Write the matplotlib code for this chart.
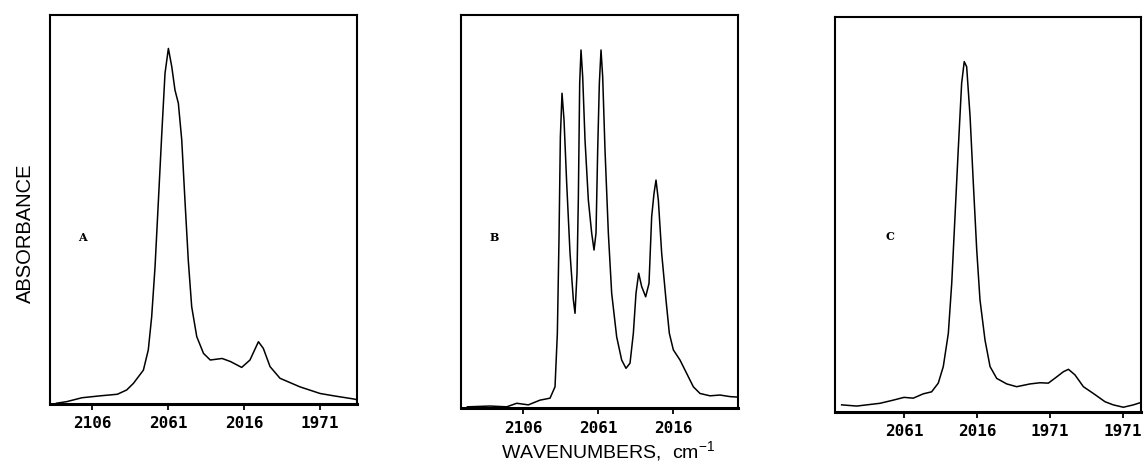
#!/usr/bin/env python3
# -*- coding: utf-8 -*-

import matplotlib
matplotlib.use('Agg')
import matplotlib.pyplot as plt

# IR spectra: wavenumber (cm-1) and absorbance (arb., 0..1 of panel)
wn_a = [2127.0, 2121.0, 2112.0, 2101.0, 2091.0, 2085.5, 2081.5, 2075.6, 2072.7,
        2070.7, 2068.7, 2066.7, 2064.7, 2062.8, 2060.8, 2058.8, 2056.9, 2054.9,
        2052.9, 2051.0, 2049.0, 2047.0, 2044.0, 2040.0, 2036.0, 2029.0, 2024.0,
        2017.4, 2012.5, 2007.5, 2004.6, 2000.6, 1994.7, 1982.9, 1971.0, 1963.0,
        1951.3, 1945.7]
abs_a = [0.002, 0.006, 0.016, 0.021, 0.025, 0.036, 0.053, 0.087, 0.139,
         0.224, 0.353, 0.524, 0.696, 0.850, 0.914, 0.867, 0.807, 0.773,
         0.679, 0.524, 0.368, 0.250, 0.173, 0.130, 0.113, 0.117, 0.109,
         0.094, 0.113, 0.160, 0.143, 0.096, 0.066, 0.044, 0.027, 0.021,
         0.013, 0.008]

wn_b = [2139.4, 2125.8, 2115.8, 2109.8, 2102.8, 2095.8, 2089.8, 2086.8, 2085.4,
        2084.4, 2083.6, 2082.6, 2081.4, 2079.8, 2077.8, 2075.8, 2074.8, 2073.6,
        2072.8, 2072.0, 2071.2, 2070.2, 2068.8, 2066.8, 2064.8, 2063.4, 2062.2,
        2061.2, 2060.2, 2059.2, 2058.2, 2056.8, 2054.8, 2052.8, 2049.8, 2046.8,
        2044.2, 2041.8, 2039.8, 2038.2, 2036.6, 2034.8, 2032.4, 2030.4, 2028.8,
        2027.4, 2026.2, 2024.8, 2022.8, 2020.2, 2018.2, 2015.8, 2011.8, 2007.8,
        2003.8, 1999.8, 1993.8, 1987.8, 1981.8, 1974.2]
abs_b = [0.003, 0.005, 0.003, 0.012, 0.008, 0.020, 0.025, 0.054, 0.190,
         0.434, 0.689, 0.801, 0.733, 0.572, 0.394, 0.275, 0.241, 0.343,
         0.534, 0.826, 0.911, 0.843, 0.682, 0.529, 0.445, 0.402, 0.445,
         0.656, 0.826, 0.911, 0.843, 0.656, 0.445, 0.292, 0.181, 0.122,
         0.101, 0.114, 0.190, 0.292, 0.343, 0.309, 0.283, 0.317, 0.487,
         0.546, 0.580, 0.529, 0.394, 0.275, 0.190, 0.148, 0.122, 0.088,
         0.054, 0.037, 0.031, 0.033, 0.029, 0.027]

wn_c = [2099.4, 2090.1, 2075.8, 2067.6, 2061.0, 2055.3, 2049.1, 2044.0, 2039.9,
        2036.8, 2033.7, 2031.6, 2029.6, 2027.6, 2025.5, 2023.9, 2022.4, 2020.3,
        2018.3, 2016.2, 2014.2, 2011.1, 2008.0, 2003.9, 1997.7, 1991.6, 1983.4,
        1977.2, 1972.1, 1966.9, 1962.8, 1959.7, 1955.7, 1950.5, 1944.4, 1937.2,
        1932.1, 1925.9, 1919.7, 1913.6]
abs_c = [0.018, 0.015, 0.022, 0.030, 0.037, 0.035, 0.046, 0.051, 0.073,
         0.115, 0.199, 0.326, 0.494, 0.663, 0.832, 0.887, 0.874, 0.748,
         0.579, 0.410, 0.284, 0.182, 0.115, 0.085, 0.071, 0.064, 0.071,
         0.074, 0.073, 0.089, 0.102, 0.108, 0.094, 0.064, 0.047, 0.026,
         0.018, 0.012, 0.018, 0.026]

ticks_a = [2106, 2061, 2016, 1971]
labels_a = ['2106', '2061', '2016', '1971']
ticks_b = [2106, 2061, 2016]
labels_b = ['2106', '2061', '2016']
ticks_c = [2061, 2016, 1971, 1926]
labels_c = ['2061', '2016', '1971', '1971']  # as printed in the original

panel_names = ['A', 'B', 'C']


def draw_panel(fig, rect, wn, ab, xlim, ticks, labels, name, name_xy):
    ax = fig.add_axes(rect)
    ax.plot(wn, ab, color='black', lw=1.1, solid_joinstyle='round')
    ax.set_xlim(*xlim)
    ax.set_ylim(0, 1)
    ax.set_yticks([])
    ax.set_xticks(ticks)
    ax.set_xticklabels(labels, family='DejaVu Sans Mono', fontweight='bold',
                       fontsize=11.5)
    ax.tick_params(axis='x', direction='out', length=4, width=1.3, pad=5)
    for sp in ax.spines.values():
        sp.set_linewidth(1.5)
    ax.spines['bottom'].set_linewidth(2.2)
    ax.text(name_xy[0], name_xy[1], name, transform=ax.transAxes,
            family='DejaVu Serif', fontweight='bold', fontsize=8,
            ha='center', va='center')
    return ax


def main():
    fig = plt.figure(figsize=(11.44, 4.68), dpi=100)

    draw_panel(fig, [0.0437, 0.1368, 0.2684, 0.8312], wn_a, abs_a,
               (2130.9, 1949.1), ticks_a, labels_a, panel_names[0], (0.107, 0.427))
    draw_panel(fig, [0.4030, 0.1282, 0.2421, 0.8397], wn_b, abs_b,
               (2143.2, 1977.0), ticks_b, labels_b, panel_names[1], (0.119, 0.433))
    draw_panel(fig, [0.7299, 0.1197, 0.2675, 0.8440], wn_c, abs_c,
               (2103.5, 1915.0), ticks_c, labels_c, panel_names[2], (0.18, 0.443))

    fig.text(0.0219, 0.501, 'ABSORBANCE', rotation=90, ha='center', va='center',
             family='Liberation Sans', fontsize=14.5)
    fig.text(0.532, 0.034, 'WAVENUMBERS,  cm$^{\\mathregular{-1}}$', ha='center',
             va='center', family='Liberation Sans', fontsize=14)

    fig.savefig('out.png', dpi=100)


if __name__ == '__main__':
    main()
